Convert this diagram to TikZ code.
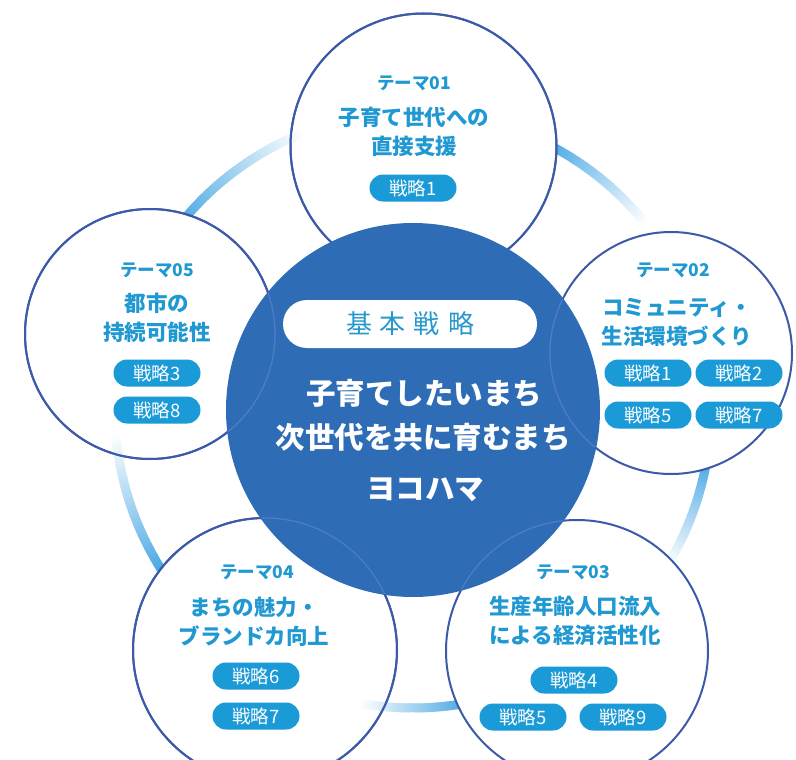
\documentclass[tikz,border=0pt]{standalone}
\usepackage{fontspec}
\newfontfamily\jp{Noto Sans CJK JP}
\usetikzlibrary{calc}
\definecolor{corec}{HTML}{2E6DB6}
\definecolor{outl}{HTML}{3C5AA8}
\definecolor{tcol}{HTML}{2098D2}
\definecolor{pillc}{HTML}{1A9BD7}
\definecolor{basec}{HTML}{2698CB}
\definecolor{ringc}{HTML}{3DA2E2}
\definecolor{faintc}{HTML}{7A8EDC}
\newcommand{\ringarc}[2]{%
  \foreach \i in {0,...,59}{%
    \pgfmathsetmacro{\aa}{#1+(#2-#1)*\i/60}%
    \pgfmathsetmacro{\ab}{#1+(#2-#1)*(\i+1.4)/60}%
    \pgfmathsetmacro{\pc}{100*(1-\i/60)}%
    \draw[ringline, ringc!\pc!white] ($(C)+(\aa:298)$) -- ($(C)+(\ab:298)$);
  }}
\tikzset{
  themecirc/.style={circle, draw=outl, line width=2pt, fill=white, inner sep=0pt},
  faint/.style={draw=faintc, line width=1.2pt, opacity=0.45},
  outline/.style={draw=outl, line width=2pt},
  ringline/.style={line width=9pt, line cap=butt},
  thead/.style={text=tcol, font=\jp\bfseries\fontsize{17.5}{19}\selectfont, inner sep=0pt},
  ttitle/.style={text=tcol, font=\jp\bfseries\fontsize{21.5}{29}\selectfont, align=center, inner sep=0pt},
  pill/.style={rectangle, rounded corners=13.5pt, fill=pillc, text=white, minimum width=87pt, minimum height=27pt, inner sep=0pt, font=\jp\fontsize{18.5}{18.5}\selectfont},
  basepill/.style={rectangle, rounded corners=24pt, fill=white, minimum width=254pt, minimum height=48pt, inner sep=0pt, text=basec, font=\jp\fontsize{26}{26}\selectfont},
  coretext/.style={text=white, font=\jp\bfseries\fontsize{29.5}{31}\selectfont, inner sep=0pt}
}
\begin{document}
\begin{tikzpicture}[x=1pt,y=-1pt]
\useasboundingbox (0,0) rectangle (796,760);
\clip (0,0) rectangle (796,760);
\coordinate (C) at (413,410);
% ring arcs (clockwise, fading), behind the circles
\ringarc{-144}{-112}
\ringarc{-65}{-39}
\ringarc{8}{31}
\ringarc{78}{100}
\ringarc{145}{175}
% theme circles
\node[themecirc, minimum size=266pt] (t1) at (423.5,146.5) {};
\node[themecirc, minimum size=242pt] (t2) at (671,353) {};
\node[themecirc, minimum size=262pt] (t3) at (577,651) {};
\node[themecirc, minimum size=264pt] (t4) at (265,650) {};
\node[themecirc, minimum size=250pt] (t5) at (150,334) {};
% faded tails entering the next circle
\begin{scope}
  \clip (t1.center) circle (132pt);
  \ringarc{-144}{-112}
\end{scope}
\begin{scope}
  \clip (t4.center) circle (131pt);
  \ringarc{78}{100}
\end{scope}
\begin{scope}
  \clip (t5.center) circle (124pt);
  \ringarc{145}{175}
\end{scope}
\draw[outline] (t1.center) circle (133pt);
\draw[outline] (t4.center) circle (132pt);
\draw[outline] (t5.center) circle (125pt);
% core circle
\node[circle, fill=corec, minimum size=374pt, inner sep=0pt] (core) at (C) {};
\begin{scope}
  \clip (C) circle (186pt);
  \draw[faint] (t2.center) circle (121pt);
  \draw[faint] (t3.center) circle (131pt);
  \draw[faint] (t4.center) circle (132pt);
  \draw[faint] (t5.center) circle (125pt);
\end{scope}
% core content
\node[basepill] (base) at (410,324) {基\kern8pt本\kern8pt戦\kern8pt略};
\node[coretext] (c1) at (424,393) {子育てしたいまち};
\node[coretext] (c2) at (423,437) {次世代を共に育むまち};
\node[coretext] (c3) at (425,490) {ヨコハマ};
% theme 01
\node[thead] (h1) at (414,83) {テーマ01};
\node[ttitle] (n1) at (414,132) {子育て世代への\\直接支援};
\node[pill] (p11) at (413,188) {戦略1};
% theme 02
\node[thead] (h2) at (673,270) {テーマ02};
\node[ttitle] (n2) at (677,322) {コミュニティ・\\生活環境づくり};
\node[pill] (p21) at (648,373) {戦略1};
\node[pill] (p22) at (739,373) {戦略2};
\node[pill] (p25) at (648,415) {戦略5};
\node[pill] (p27) at (739,415) {戦略7};
% theme 03
\node[thead] (h3) at (573,572) {テーマ03};
\node[ttitle] (n3) at (575,621) {生産年齢人口流入\\による経済活性化};
\node[pill] (p34) at (574,680) {戦略4};
\node[pill] (p35) at (523,717) {戦略5};
\node[pill] (p39) at (623,717) {戦略9};
% theme 04
\node[thead] (h4) at (257,572) {テーマ04};
\node[ttitle] (n4) at (254,622) {まちの魅力・\\ブランドカ向上};
\node[pill] (p46) at (256,676) {戦略6};
\node[pill] (p47) at (256,716) {戦略7};
% theme 05
\node[thead] (h5) at (157,270) {テーマ05};
\node[ttitle] (n5) at (157,318) {都市の\\持続可能性};
\node[pill] (p53) at (157,373) {戦略3};
\node[pill] (p58) at (157,410) {戦略8};
\end{tikzpicture}
\end{document}
